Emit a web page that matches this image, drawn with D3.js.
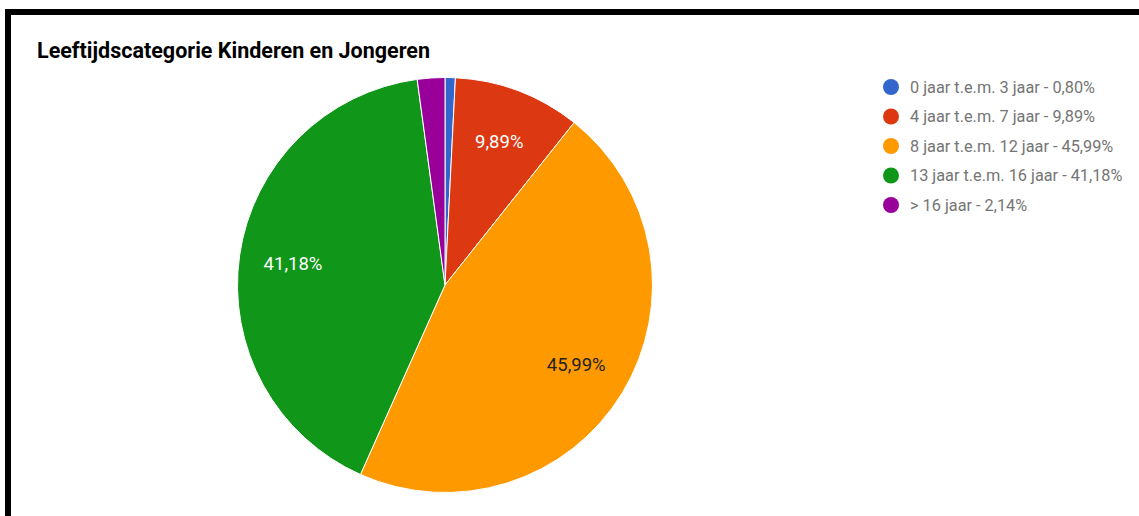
<!DOCTYPE html>
<html>
<head>
<meta charset="utf-8">
<script src="https://cdn.jsdelivr.net/npm/d3@7"></script>
<style>
  body { margin:0; background:#fff; }
  svg { display:block; font-family: Roboto, "Noto Sans", sans-serif; }
</style>
</head>
<body>
<div id="chart"></div>
<script>
// data
var categories = ["0 jaar t.e.m. 3 jaar", "4 jaar t.e.m. 7 jaar", "8 jaar t.e.m. 12 jaar", "13 jaar t.e.m. 16 jaar", "> 16 jaar"];
var percentages = [0.80, 9.89, 45.99, 41.18, 2.14];
var colours = ["#3366cc", "#dc3912", "#ff9900", "#109618", "#990099"];
var chartTitle = "Leeftijdscategorie Kinderen en Jongeren";

var width = 1139, height = 516;

var svg = d3.select("#chart")
  .append("svg")
  .attr("width", width)
  .attr("height", height);

// black frame (top + left edge of the screenshot)
svg.append("rect").attr("x",0).attr("y",0).attr("width",width).attr("height",height).attr("fill","#fff");
svg.append("rect").attr("x",5).attr("y",9).attr("width",width-5).attr("height",6).attr("fill","#000");
svg.append("rect").attr("x",5).attr("y",9).attr("width",6).attr("height",height-9).attr("fill","#000");

svg.append("text")
  .attr("x", 37)
  .attr("y", 57.5)
  .style("font-size", "21.5px")
  .style("font-weight", "bold")
  .style("fill", "#000")
  .text(chartTitle);

var fmt = function(v){ return v.toFixed(2).replace(".", ",") + "%"; };

var data = categories.map(function(c, i){
  return {name: c, value: percentages[i], colour: colours[i]};
});

var radius = 207.5;
var g = svg.append("g")
  .attr("class", "pie")
  .attr("transform", "translate(" + 445 + "," + 285 + ")");

var pie = d3.pie()
  .sort(null)
  .value(function(d){ return d.value; });

var arc = d3.arc().innerRadius(0).outerRadius(radius);
var labelArc = d3.arc().innerRadius(radius*0.74).outerRadius(radius*0.74);

var arcs = pie(data);

g.selectAll("path.slice")
  .data(arcs)
  .enter()
  .append("path")
  .attr("class", "slice")
  .attr("d", arc)
  .attr("fill", function(d){ return d.data.colour; })
  .attr("stroke", "#fff")
  .attr("stroke-width", 1);

g.selectAll("text.lbl")
  .data(arcs.filter(function(d){ return d.data.value > 5; }))
  .enter()
  .append("text")
  .attr("class", "lbl")
  .attr("transform", function(d){
    var c = labelArc.centroid(d);
    return "translate(" + c[0] + "," + c[1] + ")";
  })
  .attr("text-anchor", "middle")
  .attr("dy", "0.35em")
  .style("font-size", "18.5px")
  .style("fill", function(d){
    return d3.lab(d.data.colour).l > 65 ? "#222" : "#fff";
  })
  .text(function(d){ return fmt(d.data.value); });

// legend
var legend = svg.append("g")
  .attr("class", "legend")
  .attr("transform", "translate(" + 891 + "," + 87 + ")");

var rows = legend.selectAll("g.row")
  .data(data)
  .enter()
  .append("g")
  .attr("class", "row")
  .attr("transform", function(d, i){ return "translate(0," + (i*29.5) + ")"; });

rows.append("circle")
  .attr("r", 8)
  .attr("fill", function(d){ return d.colour; });

rows.append("text")
  .attr("x", 19)
  .attr("dy", "0.35em")
  .style("font-size", "16.3px")
  .style("fill", "#757575")
  .text(function(d){ return d.name + " - " + fmt(d.value); });
</script>
</body>
</html>
